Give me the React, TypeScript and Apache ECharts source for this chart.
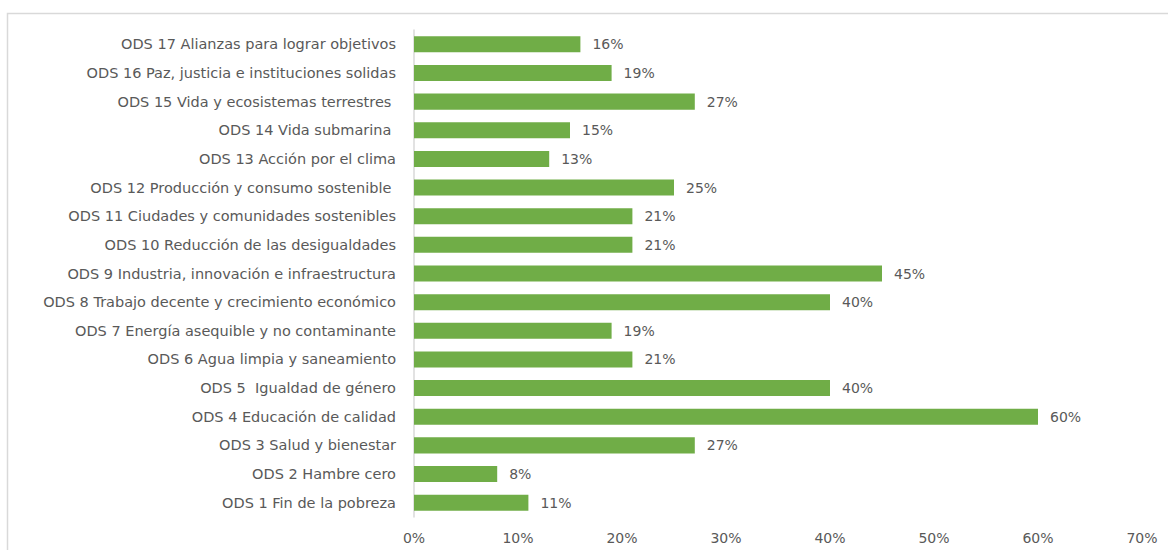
import React, { useEffect, useRef } from "react";
import * as echarts from "echarts";

const categories = [
  "ODS 1 Fin de la pobreza",
  "ODS 2 Hambre cero",
  "ODS 3 Salud y bienestar",
  "ODS 4 Educación de calidad",
  "ODS 5  Igualdad de género",
  "ODS 6 Agua limpia y saneamiento",
  "ODS 7 Energía asequible y no contaminante",
  "ODS 8 Trabajo decente y crecimiento económico",
  "ODS 9 Industria, innovación e infraestructura",
  "ODS 10 Reducción de las desigualdades",
  "ODS 11 Ciudades y comunidades sostenibles",
  "ODS 12 Producción y consumo sostenible ",
  "ODS 13 Acción por el clima",
  "ODS 14 Vida submarina ",
  "ODS 15 Vida y ecosistemas terrestres ",
  "ODS 16 Paz, justicia e instituciones solidas",
  "ODS 17 Alianzas para lograr objetivos",
];
const values = [0.11, 0.08, 0.27, 0.6, 0.4, 0.21, 0.19, 0.4, 0.45, 0.21, 0.21, 0.25, 0.13, 0.15, 0.27, 0.19, 0.16];
const xTicks = { min: 0, max: 0.7, interval: 0.1 };

const FONT = "'DejaVu Sans', sans-serif";
const TEXT = "#595959";

export default function App() {
  const ref = useRef<HTMLDivElement>(null);
  useEffect(() => {
    const chart = echarts.init(ref.current!, null, { renderer: "svg" });
    chart.setOption({
      animation: false,
      backgroundColor: "#ffffff",
      graphic: [
        {
          type: "rect",
          left: 5,
          top: 11,
          shape: { width: 1200, height: 600 },
          style: { fill: "none", stroke: "#d9d9d9", lineWidth: 1.5 },
          silent: true,
          z: -1,
        },
      ],
      grid: { left: 414, right: 26, top: 30, bottom: 33, containLabel: false },
      xAxis: {
        type: "value",
        min: xTicks.min,
        max: xTicks.max,
        interval: xTicks.interval,
        axisLine: { show: false },
        axisTick: { show: false },
        splitLine: { show: false },
        axisLabel: {
          color: TEXT,
          fontFamily: FONT,
          fontSize: 14,
          margin: 14,
          formatter: (v: number) => `${Math.round(v * 100)}%`,
        },
      },
      yAxis: {
        type: "category",
        data: categories,
        axisLine: { show: true, lineStyle: { color: "#d9d9d9", width: 1.5 } },
        axisTick: { show: false },
        axisLabel: { color: TEXT, fontFamily: FONT, fontSize: 14.5, margin: 18 },
      },
      series: [
        {
          type: "bar",
          data: values,
          barWidth: "56%",
          itemStyle: { color: "#70ad47" },
          label: {
            show: true,
            position: "right",
            distance: 12,
            color: TEXT,
            fontFamily: FONT,
            fontSize: 14,
            formatter: (p: any) => `${Math.round(p.value * 100)}%`,
          },
        },
      ],
    });
    return () => chart.dispose();
  }, []);
  return (
    <div
      ref={ref}
      style={{ position: "absolute", left: 0, top: 0, width: 1168, height: 550 }}
    />
  );
}
